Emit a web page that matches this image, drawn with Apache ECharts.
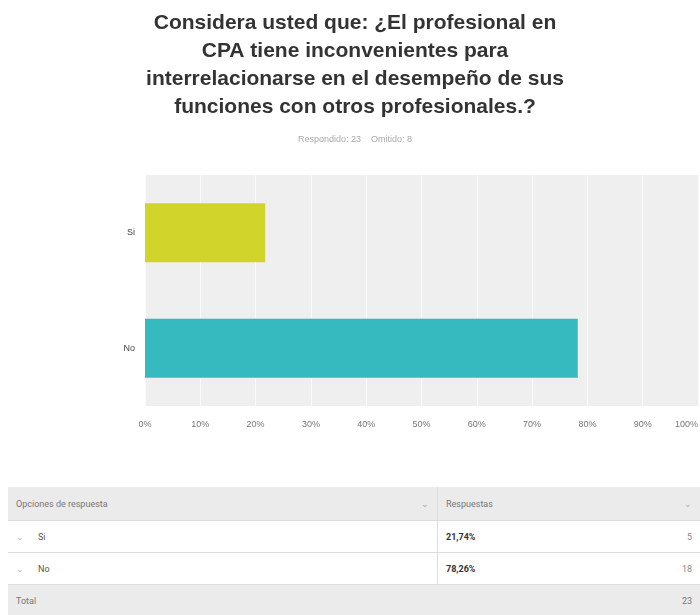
<!DOCTYPE html>
<html>
<head>
<meta charset="utf-8">
<script src="https://cdn.jsdelivr.net/npm/echarts@6/dist/echarts.min.js"></script>
<style>
  body { margin: 0; background: #fff; font-family: Roboto, Arial, sans-serif; }
  #chart { width: 700px; height: 472px; }
  table { position: absolute; left: 8px; top: 487px; width: 692px; border-collapse: collapse; font-size: 9px; color: #555; }
  td { height: 31px; padding: 0 8px; border-bottom: 1px solid #ddd; }
  td.first { width: 413px; }
  tr.head td { height: 33px; }
  tr.head td, tr.total td { background: #ebebeb; color: #777; }
  td.pct { font-weight: bold; color: #333; border-left: 1px solid #ddd; }
  td.num { text-align: right; color: #888; }
  .chev { color: #aaa; float: right; }
  .bullet { color: #bbb; margin-right: 14px; }
</style>
</head>
<body>
<div id="chart"></div>
<table id="tbl"></table>
<script>
// Data
var categories = ['Si', 'No'];
var percents = [21.74, 78.26];
var counts = [5, 18];
var barColors = ['#d1d52b', '#36b9bf'];
var answered = 23;
var skipped = 8;

// Chart
var chart = echarts.init(document.getElementById('chart'));

var options = {
    textStyle: {
        fontFamily: 'Arial, Liberation Sans, sans-serif'
    },
    title: {
        text: 'Considera usted que: ¿El profesional en\nCPA tiene inconvenientes para\ninterrelacionarse en el desempeño de sus\nfunciones con otros profesionales.?',
        subtext: 'Respondido: ' + answered + '    Omitido: ' + skipped,
        left: 350,
        top: 4,
        itemGap: 14,
        textAlign: 'center',
        textStyle: {
            fontSize: 21,
            fontWeight: 'bold',
            color: '#333',
            lineHeight: 28
        },
        subtextStyle: {
            fontSize: 9,
            color: '#aaa'
        }
    },
    grid: {
        left: 145,
        right: 2,
        top: 175,
        bottom: 66,
        outerBoundsMode: 'none',
        show: true,
        backgroundColor: '#efefef',
        borderWidth: 0
    },
    xAxis: {
        type: 'value',
        min: 0,
        max: 100,
        interval: 10,
        axisLabel: {
            formatter: '{value}%',
            fontSize: 9,
            color: '#777',
            margin: 14,
            alignMaxLabel: 'right'
        },
        axisLine: { show: false },
        axisTick: { show: false },
        splitLine: { lineStyle: { color: '#fafafa', width: 1 } }
    },
    yAxis: {
        type: 'category',
        inverse: true,
        data: categories,
        axisLabel: { fontSize: 9, color: '#444', margin: 10 },
        axisLine: { show: false },
        axisTick: { show: false }
    },
    series: [{
        type: 'bar',
        barWidth: '51%',
        data: percents.map(function(v, i) {
            return { value: v, itemStyle: { color: barColors[i] } };
        })
    }]
};

chart.setOption(options);

// Table below chart
var rows = '<tr class="head"><td class="first">Opciones de respuesta <span class="chev">&#8964;</span></td>' +
    '<td style="border-left:1px solid #ddd">Respuestas</td><td class="num"><span class="chev">&#8964;</span></td></tr>';
categories.forEach(function(c, i) {
    rows += '<tr><td class="first"><span class="bullet">&#8964;</span>' + c + '</td>' +
        '<td class="pct">' + percents[i].toFixed(2).replace('.', ',') + '%</td>' +
        '<td class="num">' + counts[i] + '</td></tr>';
});
rows += '<tr class="total"><td class="first">Total</td><td></td><td class="num">' + answered + '</td></tr>';
document.getElementById('tbl').innerHTML = rows;
</script>
</body>
</html>
